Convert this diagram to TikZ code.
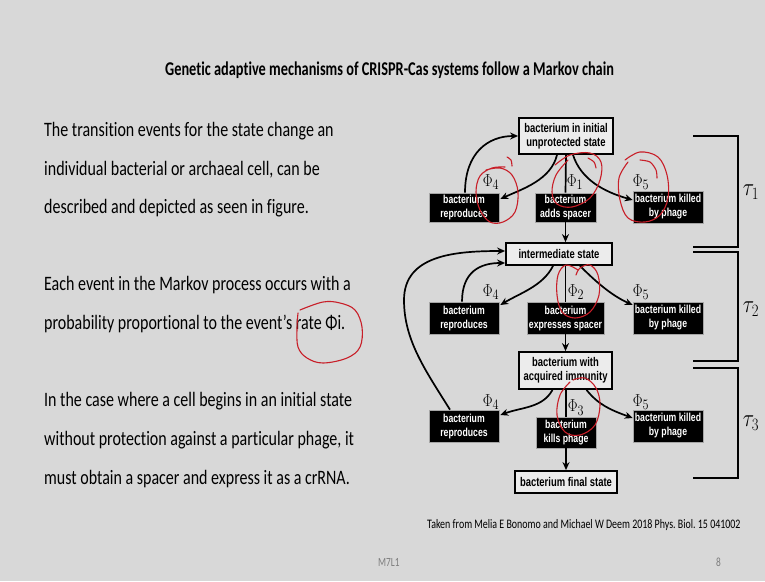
\documentclass[tikz,border=0pt]{standalone}
\usepackage{fontspec}
\setmainfont{Carlito}[Ligatures=NoCommon]
\newfontfamily\diagfont{Liberation Sans}
\usetikzlibrary{arrows.meta,calc}
\definecolor{slidebg}{RGB}{216,216,216}
\definecolor{boxfill}{RGB}{236,236,236}
\definecolor{penred}{RGB}{200,30,40}
\definecolor{footgray}{RGB}{125,125,125}
\frenchspacing
% horizontally condensed text
\newcommand\sqz[1]{\scalebox{0.75}[1]{#1}}
\newcommand\sqzb[1]{\scalebox{0.78}[1]{#1}}
\newcommand\sqzr[1]{\scalebox{0.85}[1]{#1}}
\begin{document}
\begin{tikzpicture}[x=1pt,y=-1pt,
  statebox/.style={draw=black, line width=1.8pt, fill=boxfill, inner sep=0pt, align=center,
    font=\diagfont\bfseries\fontsize{12.6}{14}\selectfont},
  eventbox/.style={draw=gray!70, line width=0.6pt, fill=black, text=white, inner sep=0pt, align=center,
    font=\diagfont\bfseries\fontsize{11.6}{14}\selectfont},
  trans/.style={line width=1.7pt, -{Stealth[length=8pt,width=7pt]}},
  link/.style={line width=1.7pt},
  rate/.style={inner sep=0pt, font=\fontsize{19}{21}\selectfont},
  epoch/.style={line width=2.2pt},
  epochlabel/.style={inner sep=0pt, font=\fontsize{27}{29}\selectfont},
  pen/.style={draw=penred, line width=1.1pt, line cap=round, line join=round},
  bodytext/.style={anchor=base west, inner sep=0pt, font=\fontsize{20.5}{24}\selectfont},
  titletext/.style={anchor=base west, inner sep=0pt, font=\bfseries\fontsize{19.5}{22}\selectfont},
  foottext/.style={anchor=base west, inner sep=0pt, font=\fontsize{13}{15}\selectfont},
]
\fill[slidebg] (0,0) rectangle (765,581);
\useasboundingbox (0,0) rectangle (765,581);

% title and explanatory text
\node[titletext] (title) at (165,75.7) {\scalebox{0.735}[1]{Genetic adaptive mechanisms of CRISPR-Cas systems follow a Markov chain}};
\node[bodytext] (p1a) at (44,136.7) {\sqzb{The transition events for the state change an}};
\node[bodytext] (p1b) at (44,175) {\sqzb{individual bacterial or archaeal cell, can be}};
\node[bodytext] (p1c) at (44,213) {\sqzb{described and depicted as seen in figure.}};
\node[bodytext] (p2a) at (44,290) {\sqzb{Each event in the Markov process occurs with a}};
\node[bodytext] (p2b) at (44,329) {\sqzb{probability proportional to the event’s rate Φi.}};
\node[bodytext] (p3a) at (44,406.7) {\sqzb{In the case where a cell begins in an initial state}};
\node[bodytext] (p3b) at (44,445.5) {\sqzb{without protection against a particular phage, it}};
\node[bodytext] (p3c) at (44,484) {\sqzb{must obtain a spacer and express it as a crRNA.}};

% footer
\node[foottext] (source) at (427,528)
  {\scalebox{0.765}[1]{Taken from Melia E Bonomo and Michael W Deem 2018 Phys. Biol. 15 041002}};
\node[foottext, text=footgray, font=\fontsize{12.5}{14}\selectfont] (code) at (378,566) {\sqz{M7L1}};
\node[foottext, text=footgray, font=\fontsize{12.5}{14}\selectfont] (page) at (716,566) {\sqz{8}};

% states
\node[statebox, minimum width=94, minimum height=36] (init) at (566,136) {\sqz{bacterium in initial}\\\sqz{unprotected state}};
\node[statebox, minimum width=106, minimum height=22] (inter) at (559,254) {\sqz{intermediate state}};
\node[statebox, minimum width=93, minimum height=37] (imm) at (565.5,370.5) {\sqz{bacterium with}\\\sqz{acquired immunity}};
\node[statebox, minimum width=102, minimum height=22] (final) at (566,482) {\sqz{bacterium final state}};

% events, first stage
\node[eventbox, minimum width=70, minimum height=29] (rep1) at (464,207.5) {\sqz{bacterium}\\\sqz{reproduces}};
\node[eventbox, minimum width=61, minimum height=29] (add) at (565.5,207.5) {\sqz{bacterium}\\\sqz{adds spacer}};
\node[eventbox, minimum width=70, minimum height=32] (kill1) at (668,207) {\sqz{bacterium killed}\\\sqz{by phage}};
% events, second stage
\node[eventbox, minimum width=70, minimum height=32] (rep2) at (464,318) {\sqz{bacterium}\\\sqz{reproduces}};
\node[eventbox, minimum width=77, minimum height=32] (expr) at (565.5,318) {\sqz{bacterium}\\\sqz{expresses spacer}};
\node[eventbox, minimum width=70, minimum height=32] (kill2) at (668,318) {\sqz{bacterium killed}\\\sqz{by phage}};
% events, third stage
\node[eventbox, minimum width=70, minimum height=32] (rep3) at (464,426) {\sqz{bacterium}\\\sqz{reproduces}};
\node[eventbox, minimum width=60, minimum height=31] (kills) at (566,432.5) {\sqz{bacterium}\\\sqz{kills phage}};
\node[eventbox, minimum width=70, minimum height=32] (kill3) at (668,426) {\sqz{bacterium killed}\\\sqz{by phage}};

% rates
\node[rate] (r14) at (491,182) {\sqzr{$\Phi_4$}};
\node[rate] (r11) at (575,182) {\sqzr{$\Phi_1$}};
\node[rate] (r15) at (641,182) {\sqzr{$\Phi_5$}};
\node[rate] (r24) at (491,292) {\sqzr{$\Phi_4$}};
\node[rate] (r22) at (576,292) {\sqzr{$\Phi_2$}};
\node[rate] (r25) at (641,292) {\sqzr{$\Phi_5$}};
\node[rate] (r34) at (491,402) {\sqzr{$\Phi_4$}};
\node[rate] (r33) at (576,407.5) {\sqzr{$\Phi_3$}};
\node[rate] (r35) at (641,402) {\sqzr{$\Phi_5$}};

% transitions, first stage
\draw[trans] ($(init.south)+(-9,0)$) .. controls +(-6,25) and +(22,-10) .. ($(rep1.east)+(1,-8.5)$);
\draw[trans] ($(init.south)+(7,0)$) .. controls +(8,25) and +(-28,-8) .. ($(kill1.west)+(0,-7)$);
\draw[link] (init.south) -- (add.north);
\draw[trans] ($(rep1.north)+(1,0)$) .. controls +(0,-40) and +(-30,0) .. (init.west);
\draw[trans] (add.south) -- (add.south |- inter.north);
% transitions, second stage
\draw[trans] ($(inter.south)+(-6,0)$) .. controls +(-10,20) and +(20,-12) .. ($(rep2.east)+(1,-13)$);
\draw[trans] ($(inter.south)+(21,0)$) .. controls +(15,15) and +(-22,-10) .. ($(kill2.west)+(0,-13)$);
\draw[link] (inter.south -| expr.north) -- (expr.north);
\draw[trans] ($(rep2.north)+(-2,0)$) .. controls +(0,-30) and +(-25,0) .. ($(inter.west)+(0,9)$);
\draw[trans] (expr.south) -- (expr.south |- imm.north);
% reproduction after immunity returns to the intermediate state
\coordinate (bend) at (404,300);
\draw[trans] ($(rep3.north)+(-14,0)$) .. controls +(-25,-40) and +(0,40) .. (bend)
  .. controls +(0,-45) and +(-50,0) .. ($(inter.west)+(0,-3)$);
% transitions, third stage
\draw[trans] ($(imm.south)+(-13,0)$) .. controls +(-10,18) and +(22,-8) .. ($(rep3.east)+(1,-11)$);
\draw[trans] ($(imm.south)+(21,0)$) .. controls +(12,15) and +(-22,-8) .. ($(kill3.west)+(0,-8)$);
\draw[link] (imm.south -| kills.north) -- (kills.north);
\draw[trans] (kills.south) -- (kills.south |- final.north);

% time brackets
\draw[epoch] (693,136) -- (738,136) -- (738,247) -- (693,247);
\draw[epoch] (693,252) -- (738,252) -- (738,361) -- (693,361);
\draw[epoch] (693,368) -- (738,368) -- (738,478) -- (693,478);
\node[epochlabel] (t1) at (751,192) {\sqzr{$\tau_1$}};
\node[epochlabel] (t2) at (751,309) {\sqzr{$\tau_2$}};
\node[epochlabel] (t3) at (751,423) {\sqzr{$\tau_3$}};

% pen marks
\draw[pen] plot[smooth, tension=0.6] coordinates {(486,170) (500,168) (512,175) (518,192) (515,212) (503,222) (490,222) (480,210) (476,192) (480,176) (492,168) (505,167)};
\draw[pen] plot[smooth] coordinates {(507,157) (511,160) (512,166)};
\draw[pen] plot[smooth, tension=0.6] coordinates {(555,165) (570,155) (590,153) (601,162) (600,180) (590,198) (572,207) (557,204) (552,192) (556,175) (568,160)};
\draw[pen] plot[smooth] coordinates {(588,158) (594,162) (596,168)};
\draw[pen] plot[smooth, tension=0.6] coordinates {(625,160) (640,152) (658,157) (667,175) (668,198) (660,215) (645,222) (628,218) (620,200) (619,178) (628,162)};
\draw[pen] plot[smooth] coordinates {(640,160) (650,162) (656,170) (657,178)};
\draw[pen] plot[smooth, tension=0.6] coordinates {(578,270) (566,265) (558,275) (557,295) (562,312) (575,318) (590,312) (599,295) (598,275) (590,265) (580,268) (576,275)};
\draw[pen] plot[smooth, tension=0.6] coordinates {(570,382) (560,395) (557,415) (565,432) (580,435) (595,425) (600,405) (596,388) (585,378) (573,380)};
\draw[pen] plot[smooth, tension=0.6] coordinates {(300,310) (323,302) (340,303) (355,310) (362,327) (360,347) (347,358) (323,363) (307,358) (298,347) (297,328) (298,313)};
\end{tikzpicture}
\end{document}
